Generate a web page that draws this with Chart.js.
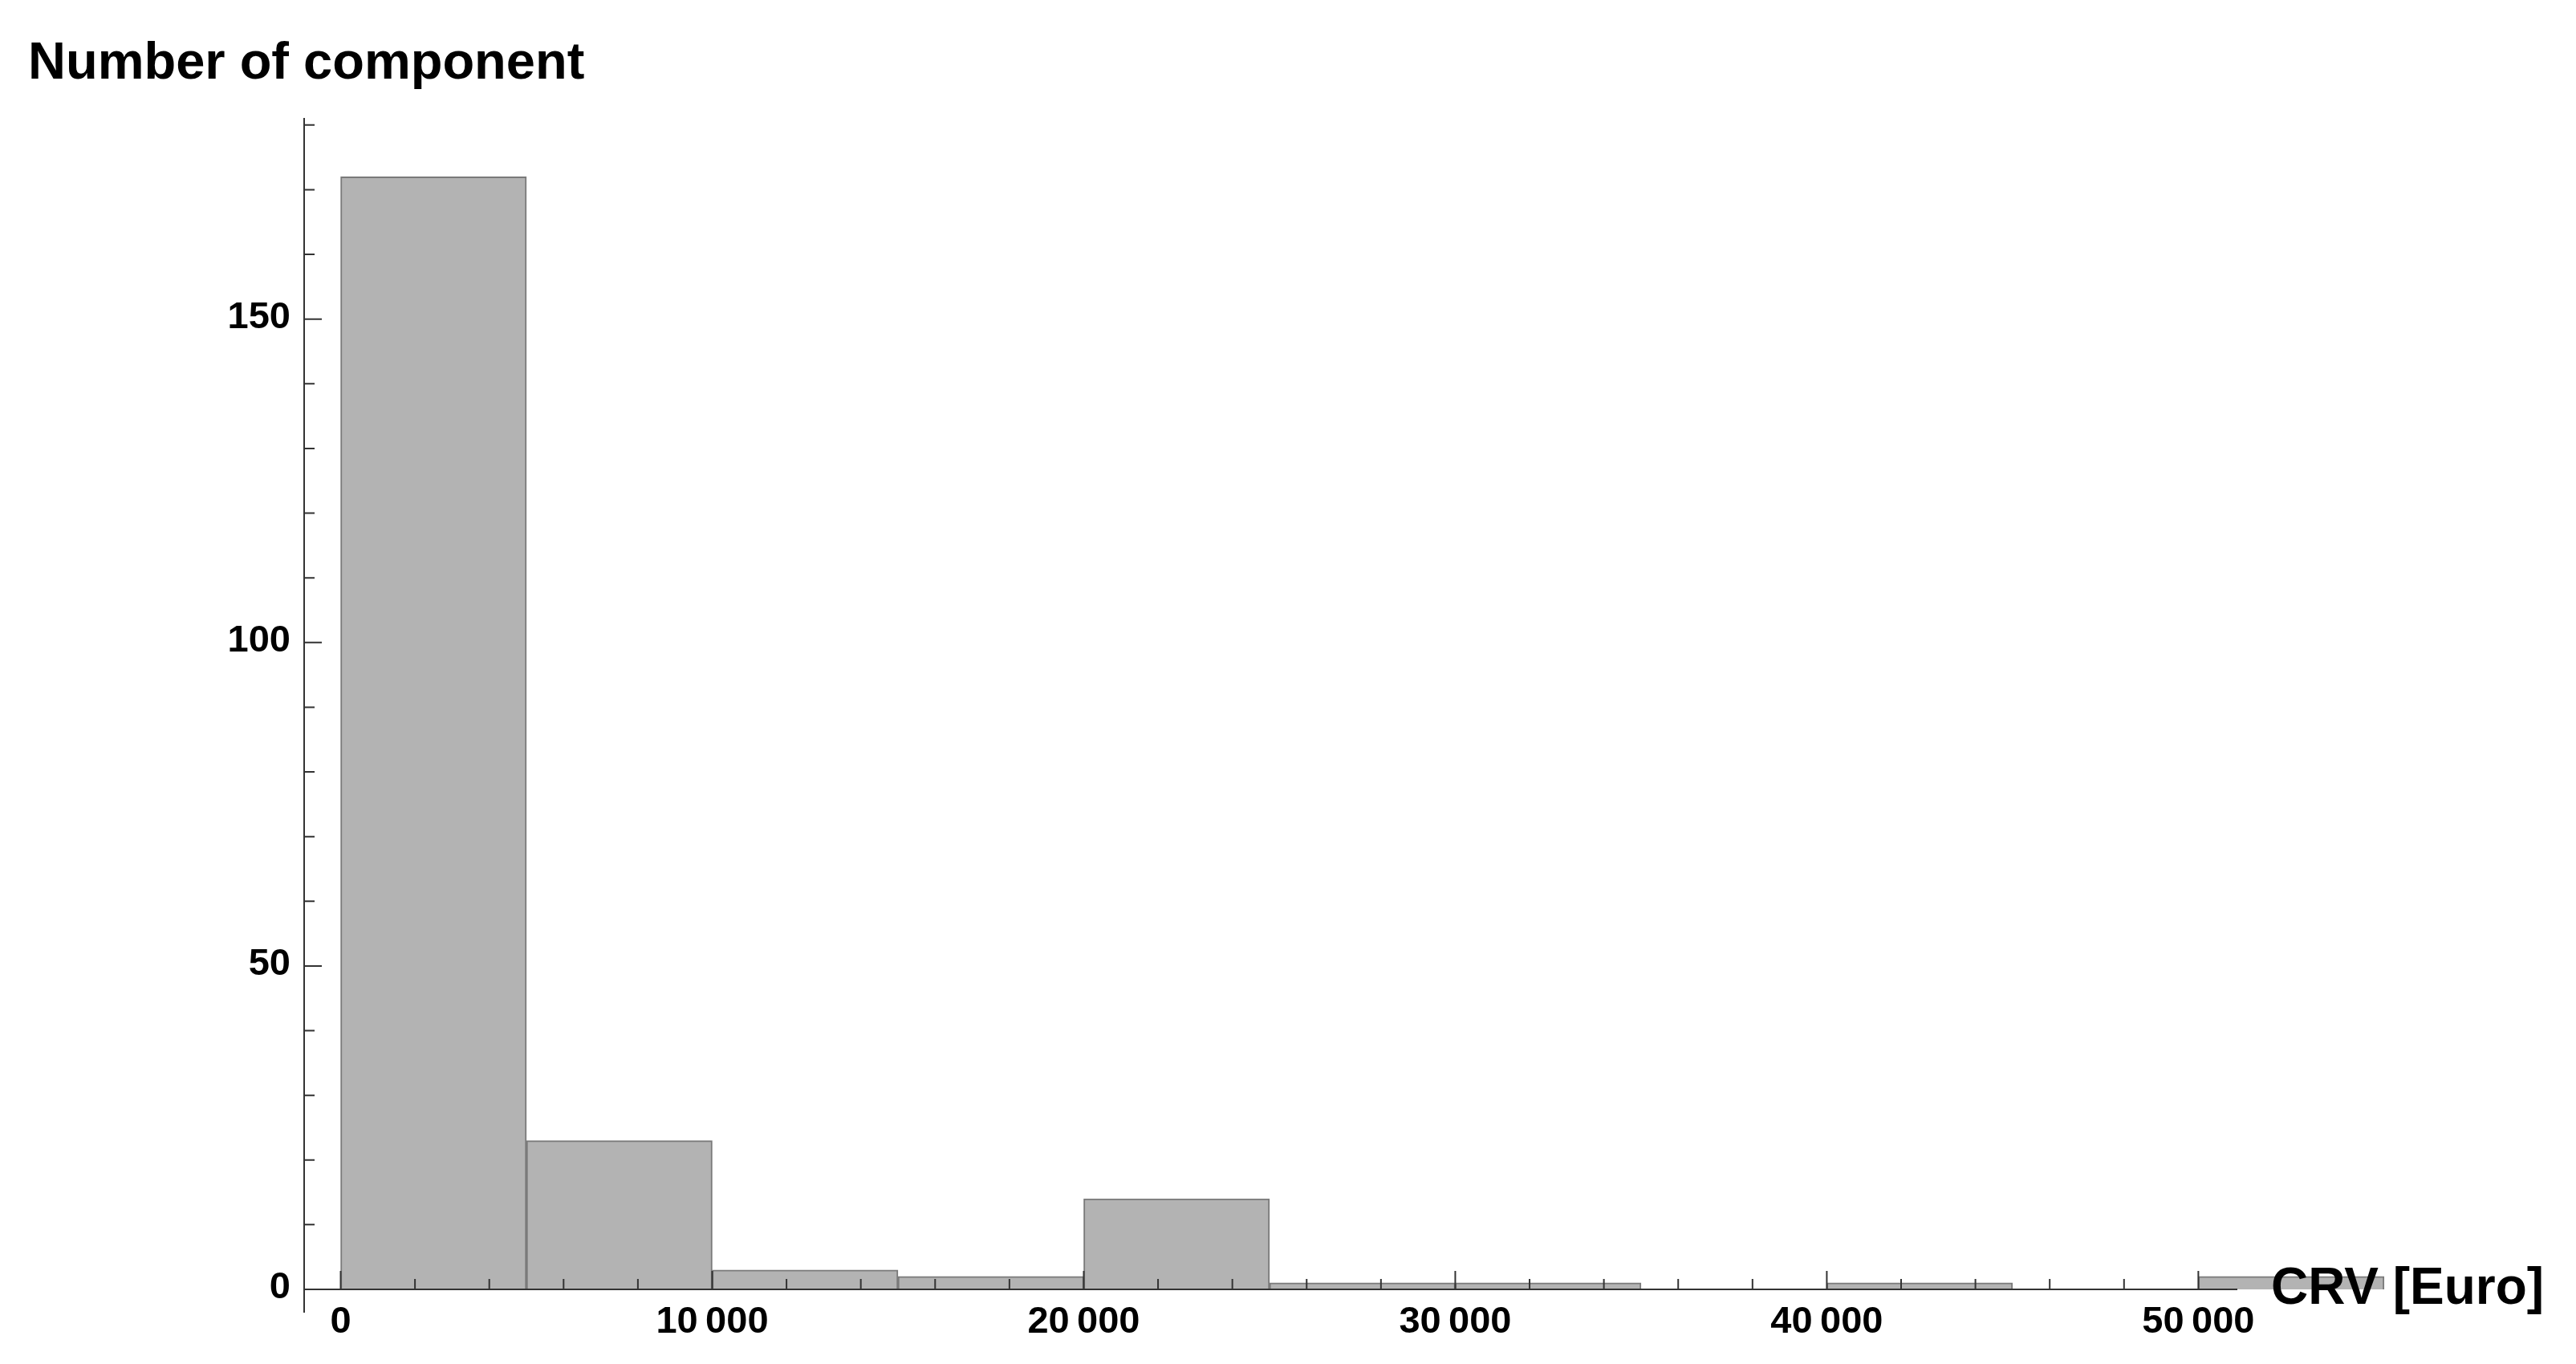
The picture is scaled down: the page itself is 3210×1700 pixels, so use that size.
<!DOCTYPE html>
<html>
<head>
<meta charset="utf-8">
<script src="https://cdn.jsdelivr.net/npm/chart.js@4.4.0/dist/chart.umd.min.js"></script>
<style>
  html, body { margin: 0; padding: 0; background: #fff; }
  #wrap { position: relative; width: 3210px; height: 1700px; }
</style>
</head>
<body>
<div id="wrap"><canvas id="histChart"></canvas></div>
<script>
// histogram bins (Euro) and component counts
const binEdges = [0, 5000, 10000, 15000, 20000, 25000, 30000, 35000, 40000, 45000, 50000, 55000];
const counts = [172, 23, 3, 2, 14, 1, 1, 0, 1, 0, 2];

// axis ticks
const yMajorTicks = [0, 50, 100, 150];
const yMinorTicks = [10, 20, 30, 40, 60, 70, 80, 90, 110, 120, 130, 140, 160, 170, 180];
const xMajorTicks = [0, 10000, 20000, 30000, 40000, 50000];
const xTickLabels = ["0", "10\u2009000", "20\u2009000", "30\u2009000", "40\u2009000", "50\u2009000"];
const xMinorTicks = [2000, 4000, 6000, 8000, 12000, 14000, 16000, 18000, 22000, 24000, 26000, 28000,
                     32000, 34000, 36000, 38000, 42000, 44000, 46000, 48000];

const titleText = "Number of component";
const xAxisLabel = "CRV [Euro]";

const FONT = "'Liberation Sans', Arial, Helvetica, sans-serif";

const axesPlugin = {
    id: "mmaAxes",
    afterDatasetsDraw(chart) {
        const { ctx, chartArea, scales: { x, y } } = chart;
        const left = chartArea.left;
        const y0 = y.getPixelForValue(0);
        ctx.save();
        ctx.strokeStyle = "#333";
        ctx.lineWidth = 2;
        ctx.beginPath();
        // axis lines
        ctx.moveTo(left, chartArea.top);
        ctx.lineTo(left, chartArea.bottom);
        ctx.moveTo(left, y0);
        ctx.lineTo(chartArea.right, y0);
        // y ticks point into the plot
        yMajorTicks.forEach((v) => {
            if (v === 0) return;
            const p = y.getPixelForValue(v);
            ctx.moveTo(left, p);
            ctx.lineTo(left + 22, p);
        });
        yMinorTicks.forEach((v) => {
            const p = y.getPixelForValue(v);
            ctx.moveTo(left, p);
            ctx.lineTo(left + 13, p);
        });
        // x ticks point up
        xMajorTicks.forEach((v) => {
            const p = x.getPixelForValue(v);
            ctx.moveTo(p, y0);
            ctx.lineTo(p, y0 - 23);
        });
        xMinorTicks.forEach((v) => {
            const p = x.getPixelForValue(v);
            ctx.moveTo(p, y0);
            ctx.lineTo(p, y0 - 13);
        });
        ctx.stroke();

        // tick labels
        ctx.fillStyle = "#000";
        ctx.font = "bold 47px " + FONT;
        ctx.textAlign = "right";
        ctx.textBaseline = "middle";
        yMajorTicks.forEach((v) => {
            ctx.fillText(String(v), left - 17, y.getPixelForValue(v) - 2);
        });
        ctx.textAlign = "center";
        ctx.textBaseline = "alphabetic";
        xMajorTicks.forEach((v, i) => {
            ctx.fillText(xTickLabels[i], x.getPixelForValue(v), y0 + 54);
        });
        ctx.restore();
    },
    afterDraw(chart) {
        const { ctx, chartArea, scales: { y } } = chart;
        ctx.save();
        ctx.fillStyle = "#000";
        ctx.textBaseline = "alphabetic";
        ctx.textAlign = "left";
        ctx.font = "bold 65px " + FONT;
        ctx.fillText(titleText, 35, 98);
        ctx.font = "bold 64px " + FONT;
        ctx.fillText(xAxisLabel, chartArea.right + 42, y.getPixelForValue(0) + 18);
        ctx.restore();
    },
};

const ctx = document.getElementById("histChart");
new Chart(ctx, {
    type: "bar",
    data: {
        datasets: [
            {
                label: "Components",
                data: counts.map((c, i) => ({
                    x: (binEdges[i] + binEdges[i + 1]) / 2,
                    y: c === 0 ? null : c,
                })),
                backgroundColor: "#b3b3b3",
                borderColor: "#7a7a7a",
                borderWidth: 2,
                borderSkipped: "start",
                barPercentage: 1,
                categoryPercentage: 1,
                clip: false,
            },
        ],
    },
    options: {
        responsive: true,
        maintainAspectRatio: false,
        animation: false,
        devicePixelRatio: 1,
        layout: { padding: { left: 379, right: 422, top: 147, bottom: 64 } },
        plugins: { legend: { display: false }, tooltip: { enabled: false } },
        scales: {
            x: {
                type: "linear",
                min: -983,
                max: 51050,
                offset: false,
                display: false,
                ticks: { stepSize: 5000, includeBounds: false },
            },
            y: { type: "linear", min: -3.6, max: 181.1, display: false },
        },
    },
    plugins: [axesPlugin],
});
</script>
</body>
</html>
